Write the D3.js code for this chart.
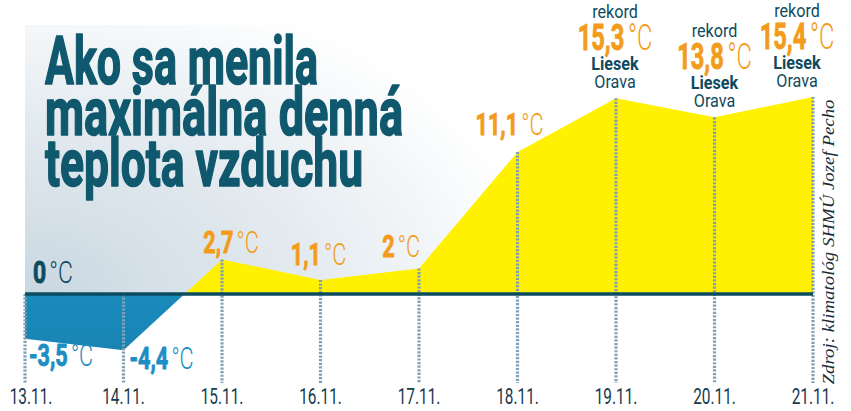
<!DOCTYPE html>
<html>
<head>
<meta charset="utf-8">
<script src="https://cdn.jsdelivr.net/npm/d3@7"></script>
<style>
  html, body { margin: 0; padding: 0; background: #ffffff; }
  svg { display: block; }
</style>
</head>
<body>
<svg id="chart" width="851" height="411"></svg>
<script>
// ---------------- DATA ----------------
const dates = ["13.11.", "14.11.", "15.11.", "16.11.", "17.11.", "18.11.", "19.11.", "20.11.", "21.11."];
const maxTemps = [-3.5, -4.4, 2.7, 1.1, 2, 11.1, 15.3, 13.8, 15.4];
const tempLabels = ["-3,5", "-4,4", "2,7", "1,1", "2", "11,1", "15,3", "13,8", "15,4"];
const isRecord = [false, false, false, false, false, false, true, true, true];
const recordWord = "rekord";
const recordPlace = ["Liesek", "Orava"];
const zeroLabel = "0";
const unit = "°C";
const titleLines = ["Ako sa menila", "maximálna denná", "teplota vzduchu"];
const sourceText = "Zdroj: klimatológ SHMÚ Jozef Pecho";

// ---------------- STYLE / LAYOUT ----------------
const C = {
  title: "#0f586d",
  zero: "#0d4c60",
  yellow: "#fff100",
  blueTop: "#21a2d3",
  blueBot: "#1884b4",
  orange: "#f39c1c",
  blueText: "#1d8ec4",
  dark: "#0e4a5e",
  date: "#173a4c",
  dots: "#82a1b6"
};
const FONT = "Roboto, 'Liberation Sans', Arial, sans-serif";
// label offsets relative to the data point (styling, not data)
const labelStyle = [
  { dx: 4,  dy: 27,  anchor: "start" },
  { dx: 6,  dy: 19,  anchor: "start" },
  { dx: 9,  dy: -6,  anchor: "middle" },
  { dx: -2, dy: -15, anchor: "middle" },
  { dx: 1,  dy: -11, anchor: "end" },
  { dx: -8, dy: -17, anchor: "middle" },
  { dx: -1, dy: 0,   anchor: "middle" },
  { dx: 0,  dy: 0,   anchor: "middle" },
  { dx: -16, dy: 0,  anchor: "middle" }
];

const svg = d3.select("#chart");
const defs = svg.append("defs");

const x = d3.scalePoint().domain(dates).range([25, 813]);
const y = d3.scaleLinear().domain([-5, 16]).range([294 + 5 * 12.8, 294 - 16 * 12.8]);
const y0 = y(0);

// background gradient panel
const rg = defs.append("radialGradient").attr("id", "bgGrad")
  .attr("gradientUnits", "userSpaceOnUse")
  .attr("cx", 25).attr("cy", y0).attr("r", 520)
  .attr("gradientTransform", `translate(25,${y0}) scale(1,0.62) translate(-25,${-y0})`);
rg.append("stop").attr("offset", "0%").attr("stop-color", "#c9d7e1");
rg.append("stop").attr("offset", "55%").attr("stop-color", "#e4ebf0");
rg.append("stop").attr("offset", "100%").attr("stop-color", "#ffffff");
svg.append("rect").attr("x", 25).attr("y", 25).attr("width", 788).attr("height", y0 - 25)
  .attr("fill", "url(#bgGrad)");

// blue gradient
const bg = defs.append("linearGradient").attr("id", "blueGrad")
  .attr("x1", 0).attr("y1", 0).attr("x2", 0).attr("y2", 1);
bg.append("stop").attr("offset", "0%").attr("stop-color", C.blueTop);
bg.append("stop").attr("offset", "100%").attr("stop-color", C.blueBot);

// clips
defs.append("clipPath").attr("id", "above").append("rect")
  .attr("x", 0).attr("y", 0).attr("width", 851).attr("height", y0);
defs.append("clipPath").attr("id", "below").append("rect")
  .attr("x", 0).attr("y", y0).attr("width", 851).attr("height", 411 - y0);

const area = d3.area()
  .x((d, i) => x(dates[i]))
  .y0(y0)
  .y1(d => y(d));

svg.append("path").datum(maxTemps).attr("d", area)
  .attr("fill", C.yellow).attr("clip-path", "url(#above)");
svg.append("path").datum(maxTemps).attr("d", area)
  .attr("fill", "url(#blueGrad)").attr("clip-path", "url(#below)");

// dotted guide lines
svg.append("g").selectAll("line").data(maxTemps).join("line")
  .attr("x1", (d, i) => x(dates[i])).attr("x2", (d, i) => x(dates[i]))
  .attr("y1", d => Math.min(y(d), y0)).attr("y2", 383)
  .attr("stroke", C.dots).attr("stroke-width", 3.2)
  .attr("stroke-dasharray", "2.2,1.4");

// zero line
svg.append("line")
  .attr("x1", x(dates[0])).attr("x2", x(dates[dates.length - 1]))
  .attr("y1", y0).attr("y2", y0)
  .attr("stroke", C.zero).attr("stroke-width", 3.5);

// simple text helper (horizontal condensing via scale)
function addText(parent, px, py, anchor, sx, str, size, weight, fill) {
  return parent.append("text")
    .attr("transform", `translate(${px},${py}) scale(${sx},1)`)
    .attr("text-anchor", anchor)
    .attr("font-family", FONT)
    .attr("font-size", size).attr("font-weight", weight).attr("fill", fill)
    .text(str);
}
// value label: bold number + thin unit, as two adjacent texts
function addValue(parent, px, py, anchor, sx, num, size, fill) {
  const tn = addText(parent, 0, 0, "start", sx, num, size, 700, fill)
    .attr("stroke", fill).attr("stroke-width", 0.9).attr("stroke-linejoin", "round");
  const tu = addText(parent, 0, 0, "start", sx, unit, size, 300, fill);
  const wn = tn.node().getComputedTextLength() * sx;
  const wu = tu.node().getComputedTextLength() * sx;
  const gap = size * 0.1;
  const total = wn + gap + wu;
  let start = px;
  if (anchor === "middle") start = px - total / 2;
  else if (anchor === "end") start = px - total;
  tn.attr("transform", `translate(${start},${py}) scale(${sx},1)`);
  tu.attr("transform", `translate(${start + wn + gap},${py}) scale(${sx},1)`);
}

// title
const tg = svg.append("g");
const titleWidths = [273, 358, 318];
titleLines.forEach((line, i) => {
  tg.append("text")
    .attr("x", 45).attr("y", 84 + i * 51)
    .attr("font-family", FONT).attr("font-weight", 700)
    .attr("font-size", 66).attr("fill", C.title)
    .attr("stroke", C.title).attr("stroke-width", 1.6).attr("stroke-linejoin", "round")
    .attr("textLength", titleWidths[i]).attr("lengthAdjust", "spacingAndGlyphs")
    .text(line);
});

// zero label
addValue(svg, 33, y0 - 11, "start", 0.74, zeroLabel, 31, C.dark);

// value labels
const lg = svg.append("g");
maxTemps.forEach((v, i) => {
  const st = labelStyle[i];
  const px = x(dates[i]) + st.dx;
  const py = y(v);
  if (!isRecord[i]) {
    const fill = v < 0 ? C.blueText : C.orange;
    addValue(lg, px, py + st.dy, st.anchor, 0.7, tempLabels[i], 31, fill);
  } else {
    addText(lg, px, py - 80, "middle", 0.85, recordWord, 19, 400, C.dark);
    addValue(lg, px, py - 48, "middle", 0.64, tempLabels[i], 37, C.orange);
    addText(lg, px, py - 28, "middle", 0.85, recordPlace[0], 19, 700, C.dark);
    addText(lg, px, py - 10, "middle", 0.85, recordPlace[1], 19, 400, C.dark);
  }
});

// date labels
const dg = svg.append("g");
dates.forEach((d, i) => {
  addText(dg, Math.max(x(d), 31), 404, "middle", 0.7, d, 22, 400, C.date);
});

// source (vertical)
svg.append("text")
  .attr("transform", "translate(834,242) rotate(-90)")
  .attr("text-anchor", "middle")
  .attr("font-family", "'Liberation Serif', 'Times New Roman', serif")
  .attr("font-style", "italic")
  .attr("font-size", 17)
  .attr("fill", "#1b2a35")
  .attr("textLength", 285).attr("lengthAdjust", "spacingAndGlyphs")
  .text(sourceText);
</script>
</body>
</html>
